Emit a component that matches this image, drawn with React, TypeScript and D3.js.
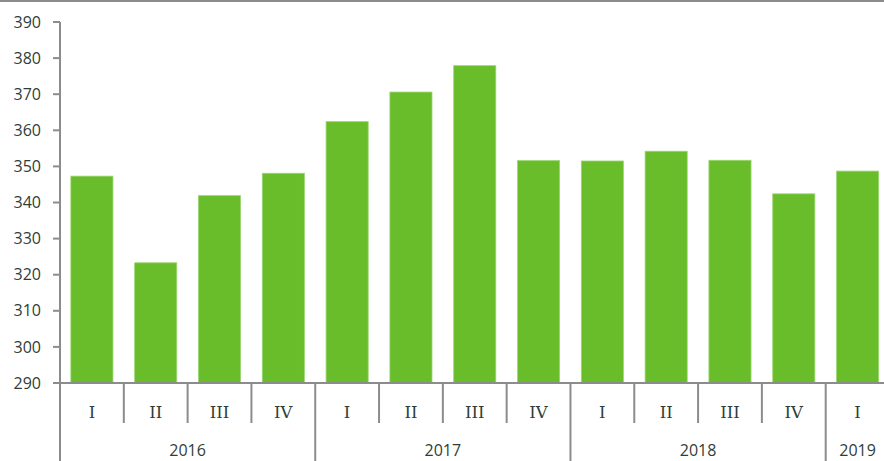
import React from 'react';
import * as d3 from 'd3';

// quarterly values
const quarters = ['I', 'II', 'III', 'IV', 'I', 'II', 'III', 'IV', 'I', 'II', 'III', 'IV', 'I'];
const years = ['2016', '2016', '2016', '2016', '2017', '2017', '2017', '2017', '2018', '2018', '2018', '2018', '2019'];
const values = [347.3, 323.3, 341.9, 348.1, 362.4, 370.6, 377.9, 351.6, 351.5, 354.2, 351.7, 342.4, 348.7];
const yTicks = [290, 300, 310, 320, 330, 340, 350, 360, 370, 380, 390];

const W = 884;
const H = 461;
const margin = { top: 22, left: 60, bottom: 78 };
const plotRight = 889.5; // last band runs past the window edge

const axisColor = '#8c8c8c';
const textColor = '#2f3d38';
const barColor = '#6abd2a';

const App = () => {
  const keys = values.map((_, i) => String(i));
  const x = d3.scaleBand().domain(keys).range([margin.left, plotRight]).paddingInner(0.34).paddingOuter(0.17);
  const step = x.step();
  const y = d3.scaleLinear().domain([290, 390]).range([H - margin.bottom, margin.top]);
  const y0 = y(290);

  // group consecutive years for the lower label row
  const groups: { year: string; start: number; end: number }[] = [];
  years.forEach((yr, i) => {
    const last = groups[groups.length - 1];
    if (last && last.year === yr) last.end = i;
    else groups.push({ year: yr, start: i, end: i });
  });
  const bandLeft = (i: number) => margin.left + i * step;

  return (
    <svg width={W} height={H} style={{ position: 'absolute', left: 0, top: 0, background: '#fff' }}>
      <line x1={0} x2={W} y1={1} y2={1} stroke={axisColor} strokeWidth={2} />

      {/* bars */}
      {values.map((v, i) => (
        <rect key={i} x={x(String(i))} y={y(v)} width={x.bandwidth()} height={y0 - y(v)}
          fill={barColor} stroke="#9ad672" strokeWidth={0.8} />
      ))}

      {/* y axis */}
      <line x1={margin.left} x2={margin.left} y1={y(390)} y2={H} stroke={axisColor} strokeWidth={2} />
      {yTicks.map(t => (
        <g key={t}>
          <line x1={53} x2={margin.left} y1={y(t)} y2={y(t)} stroke={axisColor} strokeWidth={2} />
          <text x={41} y={y(t)} dy="0.35em" textAnchor="end" fontFamily="'Open Sans', sans-serif"
            fontSize={16} fill={textColor}>{t}</text>
        </g>
      ))}

      {/* x axis */}
      <line x1={53} x2={W} y1={y0} y2={y0} stroke={axisColor} strokeWidth={2} />
      {quarters.map((q, i) => (
        <g key={i}>
          {i > 0 && years[i] === years[i - 1] && (
            <line x1={bandLeft(i)} x2={bandLeft(i)} y1={y0} y2={423} stroke={axisColor} strokeWidth={2} />
          )}
          <text x={bandLeft(i) + step / 2} y={418} textAnchor="middle" fontFamily="'DejaVu Serif', serif"
            fontSize={16.5} fill={textColor}>{q}</text>
        </g>
      ))}
      {groups.map(g => (
        <g key={g.year}>
          {g.start > 0 && (
            <line x1={bandLeft(g.start)} x2={bandLeft(g.start)} y1={y0} y2={H} stroke={axisColor} strokeWidth={2} />
          )}
          <text x={(bandLeft(g.start) + Math.min(bandLeft(g.end + 1), W + 15)) / 2} y={456} textAnchor="middle"
            fontFamily="'Open Sans', sans-serif" fontSize={16} fill={textColor}>{g.year}</text>
        </g>
      ))}
    </svg>
  );
};

export default App;
